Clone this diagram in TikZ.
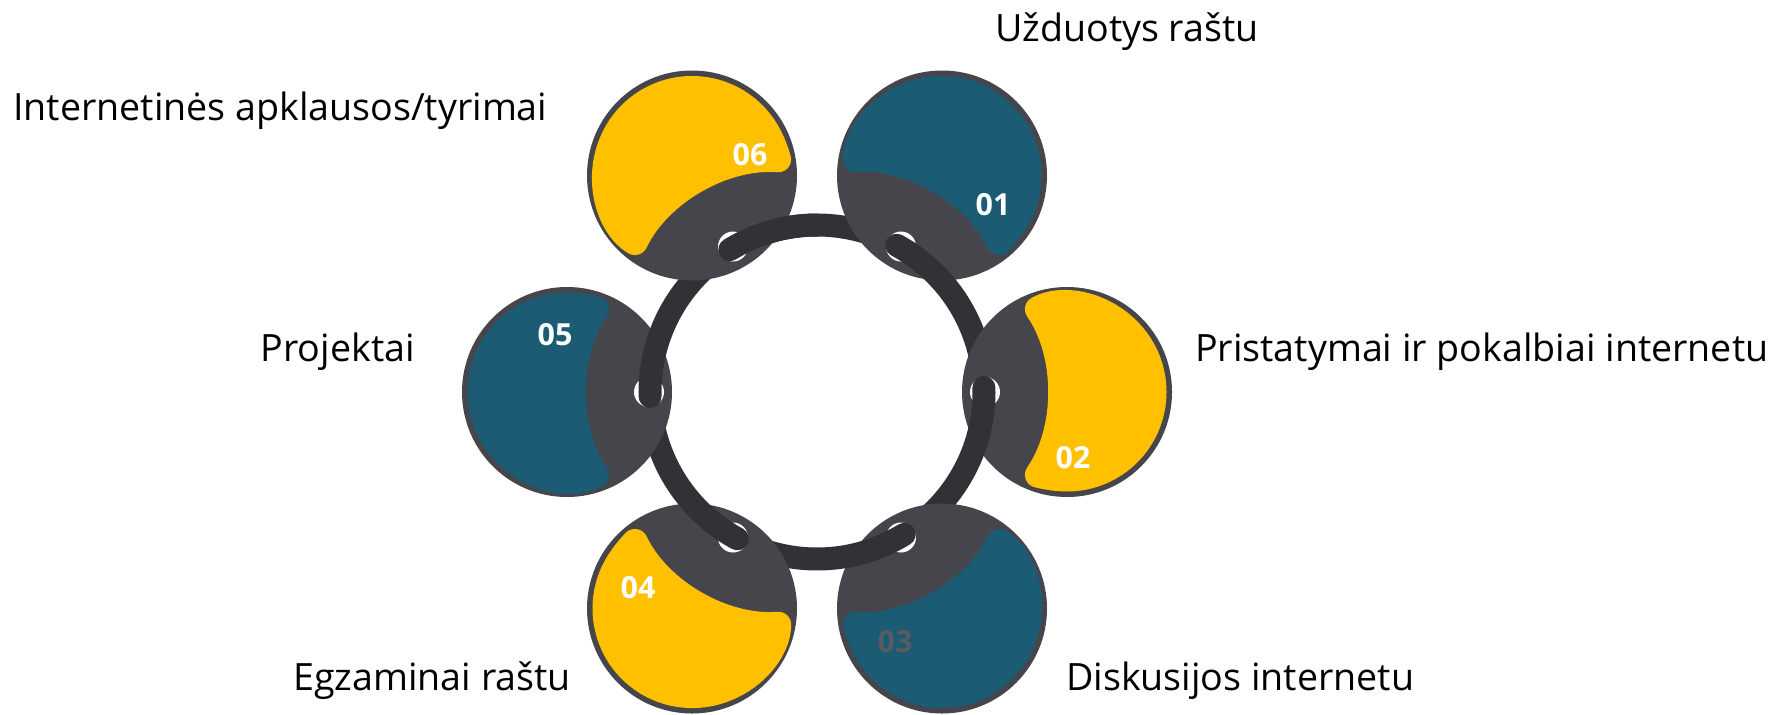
\documentclass[tikz,border=0pt]{standalone}
\usepackage{fontspec}
\setmainfont{Open Sans}
\usetikzlibrary{calc}

\definecolor{medal}{RGB}{70,69,75}
\definecolor{band}{RGB}{51,49,54}
\definecolor{gold}{RGB}{255,192,0}
\definecolor{petrol}{RGB}{27,91,115}
\definecolor{numgray}{RGB}{90,90,96}

\tikzset{
  disc/.style={fill=medal},
  ring/.style={draw=band, line width=17.25pt, line cap=round},
  hole/.style={fill=white},
  lbl/.style={font=\fontsize{28.2pt}{34pt}\selectfont, inner sep=0pt},
  num/.style={font=\fontsize{22.8pt}{27pt}\selectfont\bfseries, text=white, inner sep=0pt}
}

% coloured inlay of a medallion: centre, direction to ring centre, colour
\newcommand{\inlay}[3]{%
  \fill[#3, rounded corners=11pt] ($(#1)+(#2+180:99.5)$) arc[start angle=#2+180, end angle=#2+298.8, radius=99.5]
    arc[start angle=#2+214.5, end angle=#2+145.5, radius=154]
    arc[start angle=#2+61.2, end angle=#2+180, radius=99.5];
}

\begin{document}
\begin{tikzpicture}[x=0.75pt,y=0.75pt,yscale=-1,xscale=1]
\useasboundingbox (0,0) rectangle (1783,714);

\coordinate (c) at (817,392);
\coordinate (m01) at ($(c)+(300:250)$);
\coordinate (m02) at ($(c)+(0:250)$);
\coordinate (m03) at ($(c)+(60:250)$);
\coordinate (m04) at ($(c)+(120:250)$);
\coordinate (m05) at ($(c)+(180:250)$);
\coordinate (m06) at ($(c)+(240:250)$);
\coordinate (h01) at ($(c)+(300:168)$);
\coordinate (h02) at ($(c)+(0:168)$);
\coordinate (h03) at ($(c)+(60:168)$);
\coordinate (h04) at ($(c)+(120:168)$);
\coordinate (h05) at ($(c)+(180:168)$);
\coordinate (h06) at ($(c)+(240:168)$);

%Ring piece 06-01, behind 01
\draw[ring] ($(c)+(238.5:167)$) arc[start angle=238.5, end angle=300, radius=167];

%Medallion 01
\fill[disc] (m01) circle[radius=105];
\inlay{m01}{120}{petrol}
\node[num] (n01) at ($(m01)+(51,29.5)$) {01};
\fill[hole] (h01) circle[radius=15];
\draw[ring] ($(c)+(298.5:167)$) arc[start angle=298.5, end angle=360, radius=167];

%Medallion 02
\fill[disc] (m02) circle[radius=105];
\inlay{m02}{180}{gold}
\node[num] (n02) at ($(m02)+(6,66)$) {02};
\fill[hole] (h02) circle[radius=15];
\draw[ring] ($(c)+(-1.5:167)$) arc[start angle=-1.5, end angle=60, radius=167];

%Medallion 03
\fill[disc] (m03) circle[radius=105];
\inlay{m03}{240}{petrol}
\node[num, text=numgray] (n03) at ($(m03)+(-47,33.5)$) {03};
\fill[hole] (h03) circle[radius=15];
\draw[ring] ($(c)+(58.5:167)$) arc[start angle=58.5, end angle=120, radius=167];

%Medallion 04
\fill[disc] (m04) circle[radius=105];
\inlay{m04}{300}{gold}
\node[num] (n04) at ($(m04)+(-54,-20.5)$) {04};
\fill[hole] (h04) circle[radius=15];
\draw[ring] ($(c)+(118.5:167)$) arc[start angle=118.5, end angle=180, radius=167];

%Medallion 05
\fill[disc] (m05) circle[radius=105];
\inlay{m05}{0}{petrol}
\node[num] (n05) at ($(m05)+(-12,-57)$) {05};
\fill[hole] (h05) circle[radius=15];
\draw[ring] ($(c)+(178.5:167)$) arc[start angle=178.5, end angle=240, radius=167];

%Medallion 06
\fill[disc] (m06) circle[radius=105];
\inlay{m06}{60}{gold}
\node[num] (n06) at ($(m06)+(58,-20.5)$) {06};
\fill[hole] (h06) circle[radius=15];
\draw[ring] ($(c)+(238.5:167)$) arc[start angle=238.5, end angle=270, radius=167];

% Text Node
\node[lbl, anchor=base west] (t01) at (995,41.7) {Užduotys raštu};
% Text Node
\node[lbl, anchor=base west] (t02) at (1195,361.7) {Pristatymai ir pokalbiai internetu};
% Text Node
\node[lbl, anchor=base west] (t03) at (1066,690) {Diskusijos internetu};
% Text Node
\node[lbl, anchor=base west] (t04) at (293,690) {Egzaminai raštu};
% Text Node
\node[lbl, anchor=base east] (t05) at (415,361.7) {Projektai};
% Text Node
\node[lbl, anchor=base west] (t06) at (13,120) {Internetinės apklausos/tyrimai};

\end{tikzpicture}
\end{document}
